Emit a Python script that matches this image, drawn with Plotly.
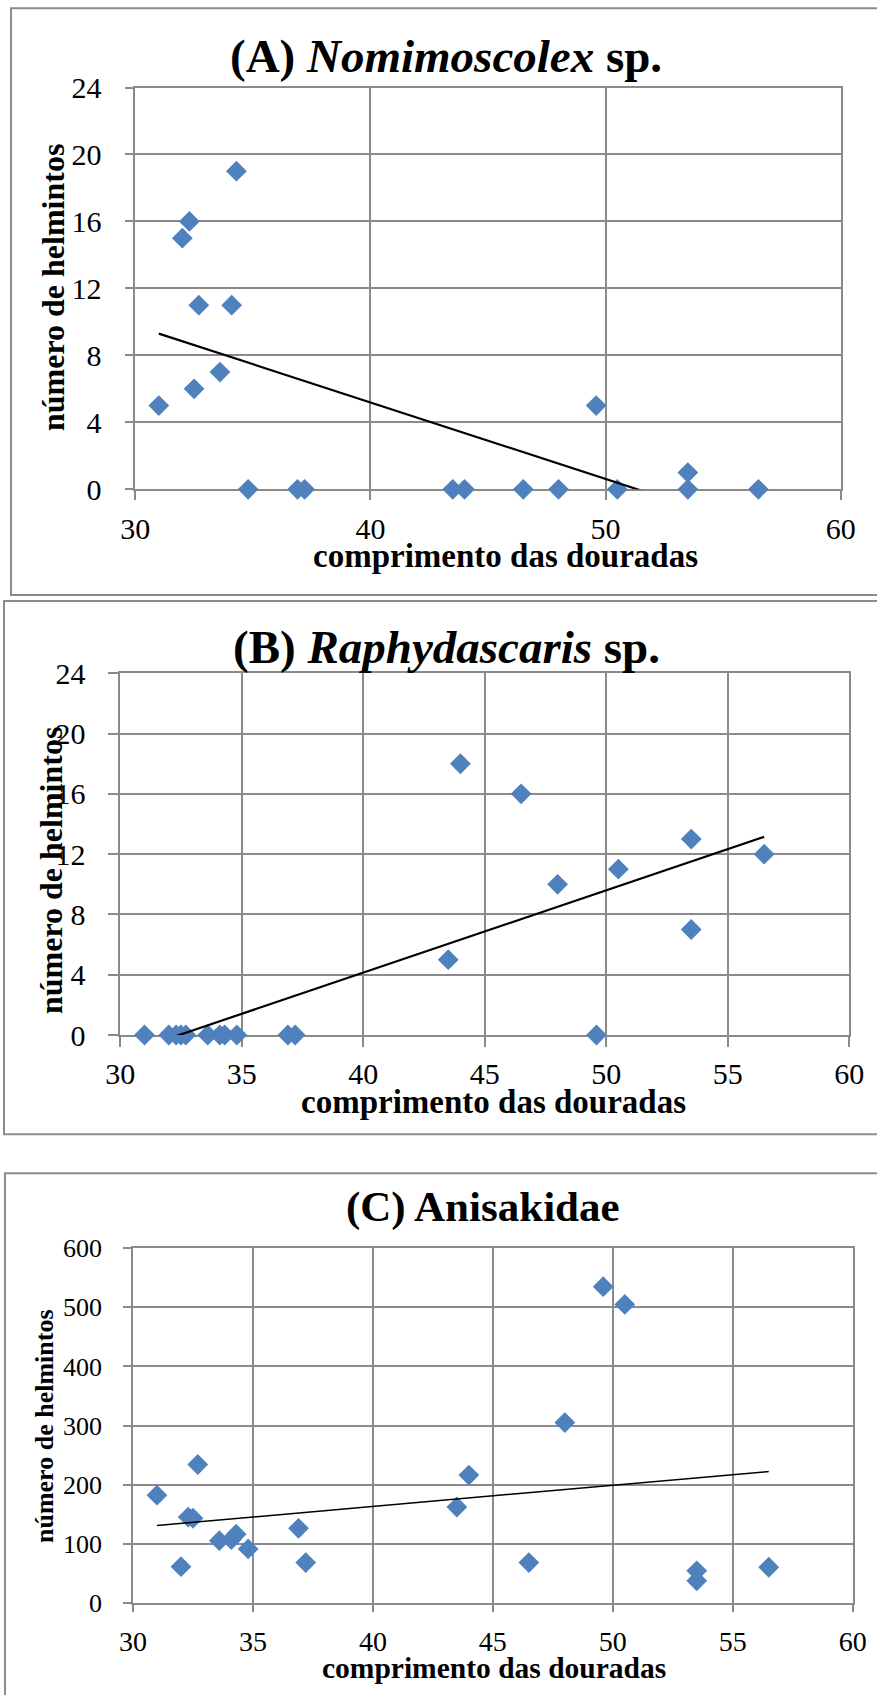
import numpy as np
import plotly.graph_objects as go

# ---------------- data ----------------
comprimento = [31.0, 32.0, 32.3, 32.5, 32.7, 33.6, 34.1, 34.3, 34.8, 36.9,
               37.2, 43.5, 44.0, 46.5, 48.0, 49.6, 50.5, 53.5, 53.5, 56.5]
nomimoscolex = [5, 15, 16, 6, 11, 7, 11, 19, 0, 0, 0, 0, 0, 0, 0, 5, 0, 1, 0, 0]
raphydascaris = [0, 0, 0, 0, 0, 0, 0, 0, 0, 0, 0, 5, 18, 16, 10, 0, 11, 13, 7, 12]
anisakidae = [182, 61, 145, 143, 234, 105, 107, 116, 91, 126, 68, 162, 216, 68,
              305, 535, 505, 54, 37, 60]

titles = ["<b>(A) <i>Nomimoscolex</i> sp.</b>",
          "<b>(B) <i>Raphydascaris</i> sp.</b>",
          "<b>(C) Anisakidae</b>"]
x_title = "comprimento das douradas"
y_title = "número de helmintos"
x_ticks_A = [30, 40, 50, 60]
x_ticks_BC = [30, 35, 40, 45, 50, 55, 60]
y_ticks_AB = [0, 4, 8, 12, 16, 20, 24]
y_ticks_C = [0, 100, 200, 300, 400, 500, 600]

# ---------------- layout helpers ----------------
W, H = 877, 1695
FONT = "Liberation Serif"
GRID = "#8a8a8a"
BLUE = "#4F81BD"


def px(v):
    return v / W


def py(v):
    return 1 - v / H


fig = go.Figure()

panels = [
    dict(y=nomimoscolex, xt=x_ticks_A, yt=y_ticks_AB, yr=[0, 24],
         plot=(135.3, 840.7, 87.5, 489.3), tick=30, ytick=30, ticklen=9,
         ystand=17, xstand=3, title_xy=(446, 56), tsize=47,
         xt_xy=(506, 556), xsize=33, yt_xy=(53, 288), ysize=32,
         box=(11, 8.3, 595), lw=2.2),
    dict(y=raphydascaris, xt=x_ticks_BC, yt=y_ticks_AB, yr=[0, 24],
         plot=(120.2, 849.2, 673.3, 1035.0), tick=30, ytick=30, ticklen=10,
         ystand=17, xstand=1, title_xy=(446, 647), tsize=47,
         xt_xy=(493, 1102), xsize=33, yt_xy=(51, 871), ysize=32,
         box=(4, 601, 1134.3), lw=2.2),
    dict(y=anisakidae, xt=x_ticks_BC, yt=y_ticks_C, yr=[0, 600],
         plot=(133.0, 852.7, 1248.3, 1602.7), tick=28, ytick=26, ticklen=8,
         ystand=16, xstand=5, title_xy=(483, 1207), tsize=43,
         xt_xy=(494, 1668), xsize=29.5, yt_xy=(44, 1426), ysize=26,
         box=(5, 1173.3, 1700), lw=1.5),
]

for i, p in enumerate(panels, start=1):
    xa = "x" if i == 1 else f"x{i}"
    ya = "y" if i == 1 else f"y{i}"
    x0, x1, y0, y1 = p["plot"]
    axis_common = dict(
        showgrid=True, gridcolor=GRID, gridwidth=1.5,
        showline=True, linecolor=GRID, linewidth=1.5, mirror=True,
        ticks="outside", ticklen=p["ticklen"], tickcolor=GRID, tickwidth=1.5,
        zeroline=False, layer="below traces", automargin=False,
    )
    fig.update_layout(**{
        ("xaxis" if i == 1 else f"xaxis{i}"): dict(
            domain=[px(x0), px(x1)], anchor=ya, range=[30, 60],
            tickmode="array",
            tickvals=p["xt"], ticktext=[str(v) for v in p["xt"]],
            tickfont=dict(family=FONT, size=p["tick"], color="black"),
            ticklabelstandoff=p["xstand"], **axis_common),
        ("yaxis" if i == 1 else f"yaxis{i}"): dict(
            domain=[py(y1), py(y0)], anchor=xa, range=p["yr"],
            tickmode="array",
            tickvals=p["yt"], ticktext=[str(v) for v in p["yt"]],
            tickfont=dict(family=FONT, size=p["ytick"], color="black"),
            ticklabelstandoff=p["ystand"], **axis_common),
    })

    # markers
    fig.add_trace(go.Scatter(
        x=comprimento, y=p["y"], mode="markers", xaxis=xa, yaxis=ya,
        marker=dict(symbol="diamond", size=16, color=BLUE, line=dict(width=0)),
        cliponaxis=False, showlegend=False, hoverinfo="skip"))

    # linear trendline fitted from the data
    slope, intercept = np.polyfit(comprimento, p["y"], 1)
    xs = [min(comprimento), max(comprimento)]
    ys = [slope * v + intercept for v in xs]
    fig.add_trace(go.Scatter(
        x=xs, y=ys, mode="lines", xaxis=xa, yaxis=ya,
        line=dict(color="black", width=p["lw"]),
        showlegend=False, hoverinfo="skip"))

    # titles
    tx, ty = p["title_xy"]
    fig.add_annotation(text=titles[i - 1], xref="paper", yref="paper",
                       x=px(tx), y=py(ty), xanchor="center", yanchor="middle",
                       showarrow=False,
                       font=dict(family=FONT, size=p["tsize"], color="black"))
    ax_, ay_ = p["xt_xy"]
    fig.add_annotation(text=f"<b>{x_title}</b>", xref="paper", yref="paper",
                       x=px(ax_), y=py(ay_), xanchor="center", yanchor="middle",
                       showarrow=False,
                       font=dict(family=FONT, size=p["xsize"], color="black"))
    bx, by = p["yt_xy"]
    fig.add_annotation(text=f"<b>{y_title}</b>", xref="paper", yref="paper",
                       x=px(bx), y=py(by), xanchor="center", yanchor="middle",
                       textangle=-90, showarrow=False,
                       font=dict(family=FONT, size=p["ysize"], color="black"))

    # outer frame of the panel
    bl, bt, bb = p["box"]
    fig.add_shape(type="rect", xref="paper", yref="paper",
                  x0=px(bl), x1=px(W + 10), y0=py(bb), y1=py(bt),
                  line=dict(color="#8c8c8c", width=2), fillcolor="rgba(0,0,0,0)",
                  layer="below")

fig.update_layout(
    template="none",
    width=W, height=H, autosize=False,
    margin=dict(l=0, r=0, t=0, b=0, pad=0, autoexpand=False),
    paper_bgcolor="white", plot_bgcolor="white",
    font=dict(family=FONT, color="black"),
    showlegend=False,
)

fig.write_html(
    "out.html",
    config={"responsive": False, "displayModeBar": False},
    post_script="document.body.style.margin='0';document.body.style.padding='0';"
                "document.body.style.overflow='hidden';",
)
